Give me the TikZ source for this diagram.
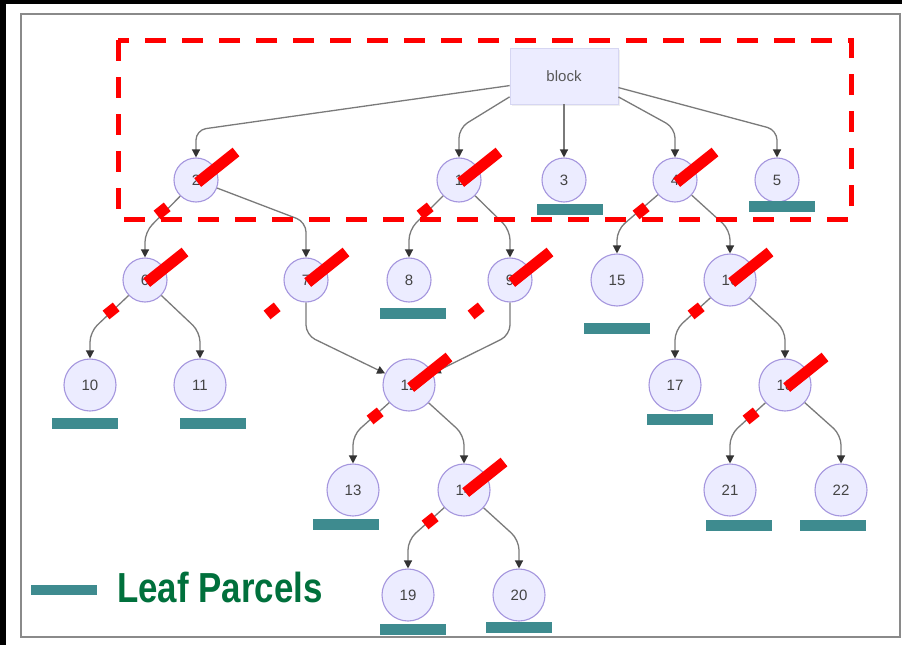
\documentclass[tikz,border=0pt]{standalone}
\usepackage{fontspec}
\setmainfont{Liberation Sans}
\usetikzlibrary{arrows.meta,shadows,calc}
\definecolor{nodefill}{HTML}{ECECFF}
\definecolor{nodeline}{HTML}{A596DE}
\definecolor{blockline}{HTML}{D6D6F2}
\definecolor{edgegray}{HTML}{7A7A7A}
\definecolor{tipgray}{HTML}{333333}
\definecolor{labelgray}{HTML}{444444}
\definecolor{leafteal}{HTML}{3E8B8F}
\definecolor{legendgreen}{HTML}{00703C}
\definecolor{framegray}{HTML}{8A8A8A}
\newcommand\cutmark[1]{\draw[cutline] ($(#1)+(40,-28)$) -- ++(-79,63);}
\begin{document}
\begin{tikzpicture}[x=1pt,y=-1pt,
  vtx/.style={circle,fill=nodefill,draw=nodeline,line width=1.1pt,inner sep=0pt,
    minimum size=44pt,font=\fontsize{15}{15}\selectfont,text=labelgray},
  bigvtx/.style={vtx,minimum size=52pt},
  blockbox/.style={rectangle,fill=nodefill,draw=blockline,line width=0.8pt,
    minimum width=108pt,minimum height=56pt,inner sep=0pt,
    font=\fontsize{15}{15}\selectfont,text=black!65,
    drop shadow={opacity=0.12,shadow xshift=1.5pt,shadow yshift=-1.5pt}},
  edge/.style={draw=edgegray,line width=1.3pt,rounded corners=10pt,
    -{Triangle[length=8pt,width=8pt,color=tipgray]}},
  leaf/.style={rectangle,fill=leafteal,draw=none,minimum width=66pt,
    minimum height=11pt,inner sep=0pt},
  cutline/.style={draw=red,line width=11pt,
    dash pattern=on 49pt off 39pt on 13pt off 200pt},
]
\useasboundingbox (0,0) rectangle (902,645);
% page background and frame
\fill[black] (0,0) rectangle (902,645);
\fill[white] (6,4) rectangle (902,645);
\draw[framegray,line width=2pt] (21,14) rectangle (900,637);

% nodes
\node[blockbox] (blk) at (564,76) {block};
\node[vtx] (n2) at (196,180) {2};
\node[vtx] (n1) at (459,180) {1};
\node[vtx] (n3) at (564,180) {3};
\node[vtx] (n4) at (675,180) {4};
\node[vtx] (n5) at (777,180) {5};
\node[vtx] (n6) at (145,280) {6};
\node[vtx] (n7) at (306,280) {7};
\node[vtx] (n8) at (409,280) {8};
\node[vtx] (n9) at (510,280) {9};
\node[bigvtx] (n15) at (617,280) {15};
\node[bigvtx] (n16) at (730,280) {16};
\node[bigvtx] (n10) at (90,385) {10};
\node[bigvtx] (n11) at (200,385) {11};
\node[bigvtx] (n12) at (409,385) {12};
\node[bigvtx] (n17) at (675,385) {17};
\node[bigvtx] (n18) at (785,385) {18};
\node[bigvtx] (n13) at (353,490) {13};
\node[bigvtx] (n14) at (464,490) {14};
\node[bigvtx] (n21) at (730,490) {21};
\node[bigvtx] (n22) at (841,490) {22};
\node[bigvtx] (n19) at (408,595) {19};
\node[bigvtx] (n20) at (519,595) {20};

% connectors
\draw[edge] (blk.190) -- (196,130) -- (n2.north);
\draw[edge] (blk.201) -- (459,128) -- (n1.north);
\draw[edge] (blk.south) -- (n3.north);
\draw[edge] (blk.-21) -- (675,128) -- (n4.north);
\draw[edge] (blk.-12) -- (777,130) -- (n5.north);
\draw[edge] (n2) -- (145,232) -- (n6.north);
\draw[edge] (n2) -- (306,222) -- (n7.north);
\draw[edge] (n1) -- (409,230) -- (n8.north);
\draw[edge] (n1) -- (510,230) -- (n9.north);
\draw[edge] (n4) -- (617,230) -- (n15.north);
\draw[edge] (n4) -- (730,230) -- (n16.north);
\draw[edge] (n6) -- (90,332) -- (n10.north);
\draw[edge] (n6) -- (200,332) -- (n11.north);
\draw[edge] (n7.south) -- (306,335) -- (n12);
\draw[edge] (n9.south) -- (510,335) -- (n12);
\draw[edge] (n16) -- (675,330) -- (n17.north);
\draw[edge] (n16) -- (785,330) -- (n18.north);
\draw[edge] (n12) -- (353,435) -- (n13.north);
\draw[edge] (n12) -- (464,435) -- (n14.north);
\draw[edge] (n18) -- (730,435) -- (n21.north);
\draw[edge] (n18) -- (841,435) -- (n22.north);
\draw[edge] (n14) -- (408,540) -- (n19.north);
\draw[edge] (n14) -- (519,540) -- (n20.north);

% top-level region
\draw[red,line width=5pt,dash pattern=on 21pt off 16pt] (118,40) rectangle (851,219);

% leaf parcel bars
\node[leaf] (l3) at (570,209.5) {};
\node[leaf] (l5) at (781.5,206.5) {};
\node[leaf] (l8) at (413,313) {};
\node[leaf] (l15) at (617,328) {};
\node[leaf] (l10) at (85,423) {};
\node[leaf] (l11) at (213,423) {};
\node[leaf] (l13) at (346,524) {};
\node[leaf] (l17) at (680,419) {};
\node[leaf] (l21) at (739,525) {};
\node[leaf] (l22) at (832.5,525) {};
\node[leaf] (l19) at (413,629) {};
\node[leaf] (l20) at (519,627) {};

% cut marks on split nodes
\cutmark{n2}
\cutmark{n1}
\cutmark{n4}
\cutmark{n6}
\cutmark{n7}
\cutmark{n9}
\cutmark{n16}
\cutmark{n12}
\cutmark{n18}
\cutmark{n14}

% legend
\node[leaf,minimum height=10pt] (legbar) at (64,590) {};
\node[anchor=base west,inner sep=0pt,text=legendgreen,xscale=0.83,
  font=\bfseries\fontsize{42}{42}\selectfont] (legtext) at (117,602) {Leaf Parcels};
\end{tikzpicture}
\end{document}
